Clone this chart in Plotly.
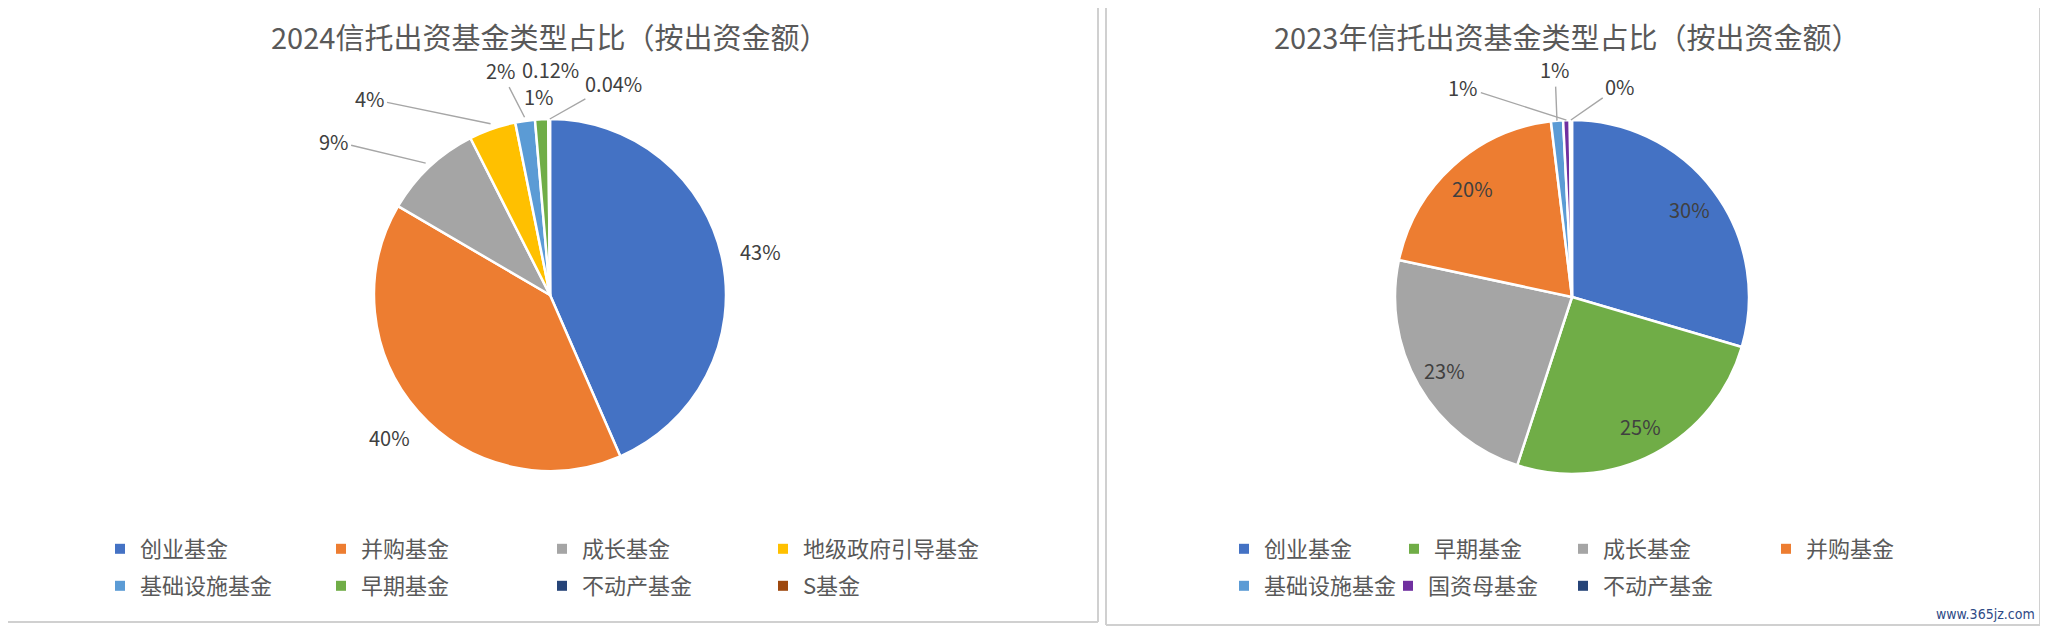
import math
import plotly.graph_objects as go

# the page body has an 8px margin, so the figure is drawn 8px in from the corner
OFF = 8
W, H = 2048 - OFF, 631 - OFF
FONT = "Noto Sans CJK SC"

# ---------------- data ----------------
title_2024 = "2024信托出资基金类型占比（按出资金额）"
cats_2024 = ["创业基金", "并购基金", "成长基金", "地级政府引导基金",
             "基础设施基金", "早期基金", "不动产基金", "S基金"]
vals_2024 = [43.4, 39.9, 9.1, 4.3, 1.8, 1.2, 0.12, 0.04]
text_2024 = ["43%", "40%", "9%", "4%", "2%", "1%", "0.12%", "0.04%"]

title_2023 = "2023年信托出资基金类型占比（按出资金额）"
cats_2023 = ["创业基金", "早期基金", "成长基金", "并购基金",
             "基础设施基金", "国资母基金", "不动产基金"]
vals_2023 = [29.5, 25.4, 23.3, 19.7, 1.1, 0.6, 0.2]
text_2023 = ["30%", "25%", "23%", "20%", "1%", "1%", "0%"]

watermark = "www.365jz.com"

# ---------------- styles ----------------
color_map = {
    "创业基金": "#4472C4",
    "并购基金": "#ED7D31",
    "成长基金": "#A5A5A5",
    "地级政府引导基金": "#FFC000",
    "基础设施基金": "#5B9BD5",
    "早期基金": "#70AD47",
    "不动产基金": "#264478",
    "S基金": "#9E480E",
    "国资母基金": "#7030A0",
}

# pie geometry in page pixels (center x, center y, radius)
geo_2024 = (550, 295, 176)
geo_2023 = (1572, 297, 177)

# label placement (radial factor, pixel offset, leader line)
rf_2024 = [1.22, 1.22, 1.03, 1.03, 1.02, 1.0, 1.0, 1.0]
off_2024 = [(0, 0), (0, 0), (-92, -22), (-121, -25), (-24, -47), (-3, -23), (2, -50), (64, -36)]
lead_2024 = [False, False, True, True, True, False, False, True]

rf_2023 = [0.83, 0.83, 0.83, 0.83, 1.0, 1.0, 1.0]
off_2023 = [(0, 0), (0, 0), (0, 0), (0, 0), (-2, -51), (-103, -33), (49, -34)]
lead_2023 = [False, False, False, False, True, True, True]

# legend entry widths (px) per item, by row
lw_2024 = [176, 176, 176, 176, 176, 176, 176, 176]
lw_2023 = [125, 124, 158, 128, 119, 130, 128]


def px(x):
    return (x - OFF) / W


def py(y):
    return 1 - (y - OFF) / H


def domain(geo):
    cx, cy, r = geo
    return dict(x=[px(cx - r), px(cx + r)], y=[py(cy + r), py(cy - r)])


fig = go.Figure()

for cats, vals, geo in [(cats_2024, vals_2024, geo_2024), (cats_2023, vals_2023, geo_2023)]:
    fig.add_trace(go.Pie(
        labels=cats, values=vals, sort=False, direction="clockwise", rotation=0,
        marker=dict(colors=[color_map[c] for c in cats], line=dict(color="white", width=2.5)),
        textinfo="none", showlegend=False, domain=domain(geo),
        hoverinfo="label+percent",
    ))

# legends via legend-only entries (4 per row)
legend_sets = [(cats_2024, lw_2024, "legend", "legend2"), (cats_2023, lw_2023, "legend3", "legend4")]
for cats, lws, l1, l2 in legend_sets:
    for i, c in enumerate(cats):
        fig.add_trace(go.Scatter(
            x=[None], y=[None], mode="markers", name=c,
            marker=dict(symbol="square", size=10, color=color_map[c]),
            legend=l1 if i < 4 else l2, legendwidth=lws[i],
            showlegend=True, hoverinfo="skip",
        ))

annotations = []
for title, cx in [(title_2024, 549), (title_2023, 1567)]:
    annotations.append(dict(
        text=title, x=px(cx), y=py(36), xref="paper", yref="paper",
        showarrow=False, xanchor="center", yanchor="middle", borderpad=0,
        font=dict(family=FONT, size=29, color="#595959"),
    ))


def add_labels(vals, texts, geo, rfs, offs, leads):
    cx, cy, r = geo
    total = sum(vals)
    cum = 0.0
    for v, t, k, (dx, dy), ld in zip(vals, texts, rfs, offs, leads):
        mid = 2 * math.pi * (cum + v / 2) / total
        cum += v
        x = cx + k * r * math.sin(mid)
        y = cy - k * r * math.cos(mid)
        base = dict(text=t, xref="paper", yref="paper", borderpad=0,
                    font=dict(family=FONT, size=20, color="#404040"))
        if ld:
            base.update(x=px(x), y=py(y), showarrow=True, ax=dx, ay=dy,
                        arrowhead=0, arrowwidth=1.4, arrowcolor="#A6A6A6",
                        standoff=0, startstandoff=2)
        else:
            base.update(x=px(x + dx), y=py(y + dy), showarrow=False,
                        xanchor="center", yanchor="middle")
        annotations.append(base)


add_labels(vals_2024, text_2024, geo_2024, rf_2024, off_2024, lead_2024)
add_labels(vals_2023, text_2023, geo_2023, rf_2023, off_2023, lead_2023)

annotations.append(dict(
    text=watermark, x=px(2037), y=py(614), xref="paper", yref="paper",
    showarrow=False, xanchor="right", yanchor="middle",
    font=dict(family="DejaVu Sans Condensed", size=14, color="#2E4A86"),
))

# chart frames (spreadsheet look)
border = dict(color="#D0D0D0", width=2)
shapes = [
    dict(type="line", xref="paper", yref="paper", x0=px(1098), x1=px(1098), y0=py(OFF), y1=py(622), line=border),
    dict(type="line", xref="paper", yref="paper", x0=px(OFF), x1=px(1098), y0=py(622), y1=py(622), line=border),
    dict(type="line", xref="paper", yref="paper", x0=px(1106), x1=px(1106), y0=py(OFF), y1=py(625), line=border),
    dict(type="line", xref="paper", yref="paper", x0=px(1106), x1=px(2040), y0=py(625), y1=py(625), line=border),
    dict(type="line", xref="paper", yref="paper", x0=px(2040), x1=px(2040), y0=py(OFF), y1=py(625), line=border),
]

leg_common = dict(orientation="h", xanchor="left", yanchor="middle",
                  font=dict(family=FONT, size=22, color="#595959"),
                  bgcolor="rgba(0,0,0,0)", traceorder="normal",
                  entrywidthmode="pixels")

fig.update_layout(
    width=W, height=H, autosize=False,
    margin=dict(l=0, r=0, t=0, b=0, pad=0),
    paper_bgcolor="white", plot_bgcolor="white",
    xaxis=dict(visible=False), yaxis=dict(visible=False),
    annotations=annotations, shapes=shapes,
    legend=dict(x=px(100), y=py(549), entrywidth=176, **leg_common),
    legend2=dict(x=px(100), y=py(586), entrywidth=176, **leg_common),
    legend3=dict(x=px(1224), y=py(549), entrywidth=128, **leg_common),
    legend4=dict(x=px(1224), y=py(586), entrywidth=128, **leg_common),
    font=dict(family=FONT),
)

fig.write_html("out.html")
